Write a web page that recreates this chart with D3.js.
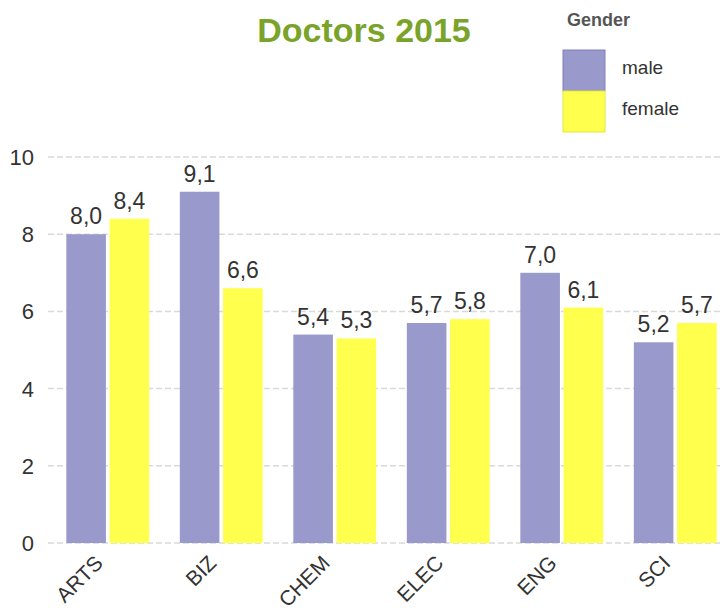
<!DOCTYPE html>
<html>
<head>
<meta charset="utf-8">
<script src="https://cdn.jsdelivr.net/npm/d3@7"></script>
<style>
  body { margin: 0; background: #fff; }
  text { font-family: "Liberation Sans", Arial, sans-serif; }
</style>
</head>
<body>
<script>
var outerWidth = 727;
var outerHeight = 611;

var categories = ['ARTS', 'BIZ', 'CHEM', 'ELEC', 'ENG', 'SCI'];
var genders = ['male', 'female'];
var maleValues = [8.0, 9.1, 5.4, 5.7, 7.0, 5.2];
var femaleValues = [8.4, 6.6, 5.3, 5.8, 6.1, 5.7];
var yTicks = [0, 2, 4, 6, 8, 10];

var colors = { male: '#9999cc', female: '#ffff4d' };
var strokes = { male: '#8080b8', female: '#e6e640' };

var rows = categories.map(function(c, i){
  return { cat: c, male: maleValues[i], female: femaleValues[i] };
});

var svg = d3.select('body').append('svg')
  .attr('width', outerWidth)
  .attr('height', outerHeight);

var x = d3.scaleBand()
  .domain(categories)
  .range([51, 732])
  .paddingInner(0.27)
  .paddingOuter(0.135);

var x1 = d3.scaleBand()
  .domain(genders)
  .range([0, x.bandwidth()])
  .paddingInner(0.085);

var y = d3.scaleLinear()
  .domain([0, 10])
  .range([543, 157]);

// grid lines
svg.append('g').selectAll('line')
  .data(yTicks)
  .enter().append('line')
  .attr('x1', 48)
  .attr('x2', 722)
  .attr('y1', function(d){ return y(d); })
  .attr('y2', function(d){ return y(d); })
  .attr('stroke', '#d9d9d9')
  .attr('stroke-width', 1.5)
  .attr('stroke-dasharray', '6,3');

// y axis labels
svg.append('g').selectAll('text')
  .data(yTicks)
  .enter().append('text')
  .attr('x', 34)
  .attr('y', function(d){ return y(d); })
  .attr('dy', '0.36em')
  .attr('text-anchor', 'end')
  .attr('fill', '#333')
  .style('font-size', '22px')
  .text(function(d){ return d; });

// bars
var group = svg.append('g').selectAll('g')
  .data(rows)
  .enter().append('g')
  .attr('transform', function(d){ return 'translate(' + x(d.cat) + ',0)'; });

var bar = group.selectAll('g')
  .data(function(d){
    return genders.map(function(g){ return { key: g, value: d[g] }; });
  })
  .enter().append('g');

bar.append('rect')
  .attr('x', function(d){ return x1(d.key); })
  .attr('y', function(d){ return y(d.value); })
  .attr('width', x1.bandwidth())
  .attr('height', function(d){ return y(0) - y(d.value); })
  .attr('fill', function(d){ return colors[d.key]; });

bar.append('text')
  .attr('x', function(d){ return x1(d.key) + x1.bandwidth() / 2; })
  .attr('y', function(d){ return y(d.value) - 10; })
  .attr('text-anchor', 'middle')
  .attr('fill', '#333')
  .style('font-size', '23px')
  .text(function(d){ return d.value.toFixed(1).replace('.', ','); });

// x axis labels
svg.append('g').selectAll('text')
  .data(categories)
  .enter().append('text')
  .attr('transform', function(d){
    return 'translate(' + (x(d) + x.bandwidth() / 2 - 14) + ',554) rotate(-45)';
  })
  .attr('text-anchor', 'end')
  .attr('dy', '0.7em')
  .attr('fill', '#333')
  .style('font-size', '21px')
  .text(function(d){ return d; });

// title
svg.append('text')
  .attr('x', 364)
  .attr('y', 42)
  .attr('text-anchor', 'middle')
  .attr('fill', '#7aa32a')
  .style('font-size', '34px')
  .style('font-weight', 'bold')
  .text('Doctors 2015');

// legend
var legend = svg.append('g');

legend.append('text')
  .attr('x', 567)
  .attr('y', 26)
  .attr('fill', '#555')
  .style('font-size', '18px')
  .style('font-weight', 'bold')
  .text('Gender');

var item = legend.selectAll('g')
  .data(genders)
  .enter().append('g')
  .attr('transform', function(d, i){ return 'translate(563,' + (50 + i * 41) + ')'; });

item.append('rect')
  .attr('width', 42)
  .attr('height', 41)
  .attr('fill', function(d){ return colors[d]; })
  .attr('stroke', function(d){ return strokes[d]; })
  .attr('stroke-width', 1);

item.append('text')
  .attr('x', 59)
  .attr('y', 24)
  .attr('fill', '#333')
  .style('font-size', '19px')
  .text(function(d){ return d; });
</script>
</body>
</html>
